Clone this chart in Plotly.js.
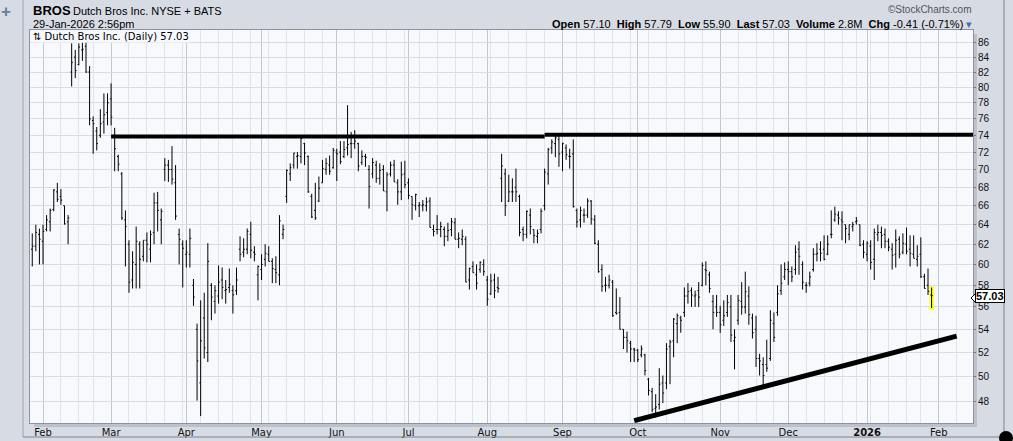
<!DOCTYPE html>
<html>
<head>
<meta charset="utf-8">
<script src="https://cdn.plot.ly/plotly-3.0.1.min.js"></script>
<style>
  html, body { margin: 0; padding: 0; background: #d7dbe4; }
  #chart { width: 1013px; height: 441px; }
</style>
</head>
<body>
<div id="chart"></div>
<script>
// ---------------- DATA ----------------
const firstDate = '2025-01-29';
const lastCalendarDate = '2026-02-27';
const holidays = ['2025-02-17','2025-04-18','2025-05-26','2025-06-19','2025-07-04',
  '2025-09-01','2025-11-27','2025-12-25','2026-01-01','2026-01-19','2026-02-16'];
const monthNames = ['Jan','Feb','Mar','Apr','May','Jun','Jul','Aug','Sep','Oct','Nov','Dec'];
const yTickValues = [48,50,52,54,56,58,60,62,64,66,68,70,72,74,76,78,80,82,84,86];

const openP = [
 61.5,61.8,63.0,62.3,63.5,64.3,65.6,67.5,67.0,66.0,
 64.3,82.0,84.0,83.0,85.0,85.5,82.0,75.8,74.5,74.0,
 75.6,76.8,78.5,74.0,71.5,69.5,64.5,62.0,58.5,60.0,
 62.0,60.8,62.4,61.5,63.2,66.3,64.5,70.0,70.5,70.0,
 68.5,63.0,62.0,61.0,61.0,58.0,54.0,49.5,55.0,52.0,
 58.0,56.5,57.0,58.5,57.5,57.8,57.5,57.5,61.5,61.2,
 61.5,63.0,61.2,59.0,59.5,60.5,61.0,60.3,59.5,59.0,
 63.0,67.0,69.5,70.5,71.5,71.5,73.0,71.5,67.0,65.5,
 66.5,68.5,70.0,70.5,70.2,72.0,72.0,71.5,72.5,73.0,
 73.0,73.0,70.8,71.5,70.0,69.5,70.5,69.0,70.0,67.5,
 69.5,70.5,68.5,67.5,69.5,68.5,67.0,66.0,66.0,66.0,
 66.0,66.5,63.5,63.5,63.5,63.5,62.8,63.5,64.2,62.5,
 62.5,62.5,58.5,59.8,59.0,59.5,60.0,58.5,57.2,58.5,
 57.8,69.0,69.5,66.5,67.5,68.0,67.0,63.5,63.0,65.0,
 63.5,62.8,63.5,66.0,69.5,72.5,73.0,73.5,72.0,72.5,
 71.5,71.8,65.5,64.5,65.0,65.0,66.5,64.5,62.0,59.5,
 58.0,58.0,58.3,55.5,55.5,54.0,53.3,52.8,52.3,52.2,
 51.8,51.8,49.8,48.8,47.5,47.8,49.5,49.5,52.5,53.0,
 54.5,55.0,55.5,57.0,57.5,57.0,57.5,58.0,59.5,59.0,
 56.5,56.0,55.5,54.8,55.5,56.0,53.0,54.8,56.5,56.0,
 57.0,55.0,54.0,51.5,51.0,51.0,51.5,54.5,55.5,57.5,
 58.8,59.5,59.3,59.5,61.5,60.0,58.0,58.2,59.5,61.0,
 61.5,61.5,61.0,63.0,64.5,65.0,64.5,64.0,63.0,63.8,
 64.3,64.0,62.0,61.0,61.8,60.5,63.0,63.2,63.0,62.3,
 61.5,61.0,62.5,61.2,62.0,61.5,61.0,60.5,61.0,58.8,
 58.0,57.10];
const highP = [
 63.1,64.0,63.6,64.0,65.0,65.7,67.8,68.5,67.8,66.0,
 65.0,85.9,85.0,85.9,86.0,86.0,82.8,76.3,75.0,77.2,
 79.2,79.2,80.5,74.9,71.7,69.7,65.5,62.4,61.3,63.8,
 62.3,62.4,63.2,63.4,67.4,67.5,65.7,71.3,71.1,72.7,
 70.5,63.6,62.4,62.4,63.6,58.6,54.5,56.6,57.3,62.1,
 58.2,58.0,59.9,59.7,58.5,59.6,58.0,59.7,62.8,62.6,
 63.6,64.3,61.8,59.9,61.0,62.0,61.8,60.6,60.8,65.0,
 64.0,70.0,70.7,71.9,72.0,73.7,73.1,71.6,67.3,68.5,
 69.2,71.1,71.3,71.6,72.5,72.4,73.3,73.3,77.7,74.4,
 74.6,73.1,72.2,71.8,70.5,71.3,71.0,70.7,70.5,69.7,
 70.9,71.1,68.9,70.9,71.0,69.0,67.0,67.3,66.4,66.6,
 66.9,66.9,64.0,65.0,64.3,63.8,64.2,64.7,64.7,63.2,
 63.5,62.8,59.7,60.3,60.0,60.3,60.5,58.9,59.1,59.1,
 58.8,71.8,70.1,69.4,69.0,70.1,67.2,63.8,65.5,65.7,
 63.5,63.5,65.7,70.1,72.5,73.5,74.2,73.9,73.1,72.9,
 72.4,73.5,65.7,65.9,65.7,66.8,66.6,65.0,62.4,60.0,
 58.8,59.0,58.5,57.7,56.9,54.0,53.8,53.0,52.4,52.3,
 52.6,51.9,49.9,49.1,48.6,50.7,50.1,52.8,53.1,55.0,
 55.4,55.2,57.8,58.2,57.8,57.5,58.3,60.2,60.3,59.3,
 57.1,57.1,56.1,56.6,57.1,57.1,54.0,57.1,58.3,59.3,
 57.9,55.4,55.2,51.9,51.6,53.1,55.7,55.5,58.0,60.0,
 60.2,60.3,59.8,61.9,62.3,60.3,58.3,59.3,61.6,62.1,
 62.3,62.9,62.9,65.5,65.9,65.4,65.4,64.0,64.0,64.3,
 64.8,64.0,62.4,62.3,62.4,63.6,64.0,63.8,63.6,62.6,
 62.1,63.5,62.8,63.1,63.7,62.9,62.9,61.9,62.7,59.1,
 59.6,57.79];
const lowP = [
 59.8,61.3,60.0,60.0,63.3,63.3,65.4,66.4,66.1,64.0,
 62.0,80.1,81.2,82.9,83.5,81.9,75.2,71.8,72.2,73.7,
 74.2,75.2,75.2,69.8,69.8,64.5,59.8,57.3,57.7,57.7,
 57.7,60.3,60.2,60.2,62.0,63.3,62.0,68.7,68.6,68.3,
 64.5,60.0,57.8,59.7,59.7,56.1,48.1,46.9,51.5,51.2,
 54.8,55.4,56.3,56.7,56.3,57.3,55.4,57.1,60.3,60.7,
 61.0,60.6,60.3,56.6,58.5,59.8,60.3,58.2,58.2,58.0,
 62.5,66.3,68.7,70.1,70.1,70.7,70.5,67.4,64.7,64.5,
 66.4,68.5,69.4,69.4,70.1,68.7,70.6,71.3,71.6,71.3,
 72.4,69.8,70.5,70.3,65.7,69.0,68.5,68.3,67.6,65.4,
 69.2,68.6,66.1,66.6,67.9,66.7,64.5,65.5,64.8,65.4,
 65.4,63.7,62.8,63.0,62.7,61.8,62.3,62.8,62.5,61.6,
 61.9,58.3,57.6,59.2,57.6,59.2,58.9,56.1,57.1,56.8,
 57.3,66.4,64.9,66.4,66.4,66.4,62.8,62.3,62.6,63.0,
 62.1,62.1,63.1,65.5,68.3,71.8,71.4,70.3,69.8,71.1,
 70.1,65.8,63.7,63.7,64.2,64.7,64.0,62.0,59.2,57.4,
 57.4,57.7,55.1,55.3,54.0,52.3,52.0,51.2,51.2,51.2,
 51.6,50.1,48.5,47.2,46.8,47.4,47.9,49.0,49.4,51.6,
 52.8,53.7,55.1,56.3,56.0,56.0,56.0,57.9,58.0,57.3,
 54.0,55.1,53.7,54.3,55.1,52.9,50.6,54.4,55.3,55.4,
 54.4,53.2,50.8,50.1,49.3,50.4,51.3,52.9,55.2,57.1,
 58.5,58.0,58.3,59.0,59.0,57.6,57.3,57.9,59.3,60.3,
 60.3,60.4,60.9,62.6,64.3,64.0,62.4,62.1,62.4,63.3,
 64.0,61.8,60.6,60.3,59.5,58.5,62.3,61.6,61.6,61.3,
 59.5,59.7,60.6,61.0,61.0,59.8,60.6,59.8,58.7,57.7,
 57.1,55.90];
const closeP = [
 61.8,63.2,62.5,63.3,64.5,65.5,67.7,66.7,66.6,64.1,
 64.7,83.3,82.2,85.4,85.1,82.0,76.0,75.4,73.0,75.4,
 76.5,78.0,76.2,72.4,70.6,64.7,63.8,58.3,60.2,62.3,
 60.5,62.4,62.0,63.0,66.3,65.5,65.4,70.5,70.0,68.9,
 64.9,62.5,61.6,61.2,62.6,56.9,51.3,53.0,52.4,60.3,
 56.9,57.5,58.3,57.8,57.6,58.1,57.1,58.5,61.0,61.5,
 63.3,61.4,61.0,59.8,60.0,61.1,60.3,59.6,59.2,64.4,
 63.5,69.9,70.2,71.9,71.6,73.6,71.9,67.5,64.8,64.7,
 67.9,70.1,70.7,69.8,72.2,71.8,70.9,72.3,72.9,73.0,
 73.3,70.4,71.5,71.4,68.1,70.8,69.0,69.9,67.6,69.4,
 70.5,68.6,67.5,69.4,68.3,67.1,66.1,67.2,66.1,66.1,
 66.4,63.7,63.3,63.5,63.8,62.8,63.4,64.3,62.5,62.6,
 62.8,58.3,59.6,59.2,58.2,60.2,59.3,56.7,58.4,57.5,
 57.7,70.4,66.0,67.5,67.5,67.5,63.2,63.0,65.4,63.8,
 62.9,63.1,65.4,69.7,72.3,73.2,73.7,71.8,73.0,71.7,
 71.5,65.9,64.3,65.5,65.0,66.5,64.6,62.1,59.3,57.9,
 58.0,58.5,55.2,55.4,54.0,53.3,53.0,52.3,52.2,51.4,
 52.3,50.5,48.9,47.4,47.6,49.4,48.7,52.3,52.9,54.9,
 55.2,54.8,57.0,57.4,57.1,57.1,56.9,59.9,59.4,57.7,
 55.5,55.5,54.4,55.2,56.4,53.5,53.3,56.6,56.0,57.4,
 55.3,53.7,51.5,51.3,50.1,50.7,54.8,53.3,57.2,58.2,
 59.5,59.3,58.8,61.2,60.8,58.3,58.0,58.8,61.0,61.1,
 61.1,60.5,62.0,63.0,65.1,64.7,64.3,63.6,64.0,64.0,
 64.4,61.9,61.2,62.1,60.2,63.2,63.2,62.9,62.3,61.7,
 60.9,62.4,61.0,62.1,61.3,61.1,60.6,60.8,58.8,57.7,
 57.44,57.03];

// user-drawn trend lines (dates, price levels)
const resistance1Dates = ['2025-03-03','2025-08-25'];
const resistance1Prices = [73.85, 73.85];
const resistance2Dates = ['2025-08-25','2026-02-20'];
const resistance2Prices = [74.05, 74.05];
const supportDates = ['2025-09-30','2026-02-09'];
const supportPrices = [46.56, 53.4];

// ---------------- CALENDAR ----------------
function tradingCalendar() {
  const out = [];
  const d = new Date(firstDate + 'T00:00:00Z');
  const end = new Date(lastCalendarDate + 'T00:00:00Z');
  while (d <= end) {
    const wd = d.getUTCDay();
    const s = d.toISOString().slice(0, 10);
    if (wd !== 0 && wd !== 6 && !holidays.includes(s)) out.push(s);
    d.setUTCDate(d.getUTCDate() + 1);
  }
  return out;
}
const cal = tradingCalendar();
const n = closeP.length;
const xIdx = cal.slice(0, n).map((_, i) => i);
const dIdx = s => cal.indexOf(s);

const monthTickVals = [], monthTickText = [], weekTickVals = [];
for (let i = 1; i < cal.length; i++) {
  const m = cal[i].slice(5, 7), pm = cal[i - 1].slice(5, 7);
  if (m !== pm) {
    monthTickVals.push(i);
    monthTickText.push(m === '01' ? '<b>' + cal[i].slice(0, 4) + '</b>' : monthNames[+m - 1]);
  } else {
    const wd = new Date(cal[i] + 'T00:00:00Z').getUTCDay();
    const pwd = new Date(cal[i - 1] + 'T00:00:00Z').getUTCDay();
    if (wd < pwd) weekTickVals.push(i);
  }
}

// ---------------- LAYOUT HELPERS ----------------
const W = 1013, H = 441, PL = 30, PR = 973, PT = 30, PB = 423;
const px = x => (x - PL) / (PR - PL);
const py = y => (PB - y) / (PB - PT);
const sans = 'Liberation Sans, Arial, sans-serif';
const dejavu = 'DejaVu Sans, Verdana, sans-serif';
const last = n - 1;

const traces = [
  { type: 'bar', x: [xIdx[last]], base: [lowP[last] * 0.997], y: [highP[last] * 1.003 - lowP[last] * 0.997],
    width: 1.5, marker: { color: '#ffff50', line: { width: 0 } }, hoverinfo: 'skip', showlegend: false },
  { type: 'ohlc', x: xIdx, open: openP, high: highP, low: lowP, close: closeP,
    increasing: { line: { color: '#000', width: 1 } },
    decreasing: { line: { color: '#000', width: 1 } },
    tickwidth: 0.35, hoverinfo: 'skip', showlegend: false },
  { type: 'scatter', mode: 'lines', x: resistance1Dates.map(dIdx), y: resistance1Prices,
    line: { color: '#000', width: 4 }, hoverinfo: 'skip', showlegend: false },
  { type: 'scatter', mode: 'lines', x: resistance2Dates.map(dIdx), y: resistance2Prices,
    line: { color: '#000', width: 4 }, hoverinfo: 'skip', showlegend: false },
  { type: 'scatter', mode: 'lines', x: supportDates.map(dIdx), y: supportPrices,
    line: { color: '#000', width: 5 }, hoverinfo: 'skip', showlegend: false }
];

const layout = {
  width: W, height: H,
  margin: { l: PL, r: W - PR, t: PT, b: H - PB, pad: 0 },
  paper_bgcolor: '#d7dbe4',
  plot_bgcolor: '#f8f9fc',
  showlegend: false,
  hovermode: false,
  dragmode: false,
  xaxis: {
    range: [(PL - 32.25) / 3.583, (PR - 32.25) / 3.583],
    tickmode: 'array', tickvals: monthTickVals, ticktext: monthTickText,
    showgrid: true, gridcolor: '#c3c7d0', gridwidth: 1,
    minor: { tickmode: 'array', tickvals: weekTickVals, showgrid: true, gridcolor: '#e0e3ea', ticks: '' },
    ticks: '', tickfont: { family: dejavu, size: 10, color: '#111' },
    showline: true, mirror: true, linecolor: '#8d929c', linewidth: 1,
    zeroline: false, rangeslider: { visible: false }, fixedrange: true
  },
  yaxis: {
    type: 'log', side: 'right',
    range: [Math.log10(46.38), Math.log10(87.79)],
    tickmode: 'array', tickvals: yTickValues, ticktext: yTickValues.map(String),
    showgrid: true, gridcolor: '#d9dce4', gridwidth: 1,
    ticks: 'outside', ticklen: 2, tickcolor: '#777',
    tickfont: { family: sans, size: 10, color: '#111' },
    showline: true, mirror: true, linecolor: '#8d929c', linewidth: 1,
    zeroline: false, fixedrange: true
  },
  bargap: 0,
  shapes: [
    // drop shadow of the chart panel
    { type: 'rect', xref: 'paper', yref: 'paper', x0: px(PR), x1: px(PR + 4), y0: py(PB + 4), y1: py(PT + 4),
      fillcolor: '#bcc1cb', line: { width: 0 }, layer: 'below' },
    { type: 'rect', xref: 'paper', yref: 'paper', x0: px(PL + 4), x1: px(PR + 4), y0: py(PB + 4), y1: py(PB),
      fillcolor: '#bcc1cb', line: { width: 0 }, layer: 'below' },
    // panel borders
    { type: 'line', xref: 'paper', yref: 'paper', x0: px(23), x1: px(23), y0: py(0), y1: py(437),
      line: { color: '#9ea3ad', width: 1 } },
    { type: 'line', xref: 'paper', yref: 'paper', x0: px(1004), x1: px(1004), y0: py(0), y1: py(437),
      line: { color: '#7d828c', width: 1 } },
    { type: 'line', xref: 'paper', yref: 'paper', x0: px(23), x1: px(1004), y0: py(437), y1: py(437),
      line: { color: '#7d828c', width: 1 } },
    // price marker pointer
    { type: 'path', xref: 'paper', yref: 'paper',
      path: 'M ' + px(971) + ' ' + py(298) + ' L ' + px(976) + ' ' + py(293) + ' L ' + px(976) + ' ' + py(303) + ' Z',
      fillcolor: '#ffffff', line: { color: '#000', width: 1 } },
    // corner knob
    { type: 'circle', xref: 'paper', yref: 'paper', x0: px(999), x1: px(1013), y0: py(445), y1: py(431),
      fillcolor: '#000', line: { width: 0 } }
  ],
  annotations: [
    { xref: 'paper', yref: 'paper', x: px(6), y: py(12), xanchor: 'center', yanchor: 'middle',
      text: '<b>+</b>', showarrow: false, font: { family: sans, size: 17, color: '#6a7f9f' } },
    { xref: 'paper', yref: 'paper', x: px(31), y: py(11), xanchor: 'left', yanchor: 'middle',
      text: '<b>BROS</b>', showarrow: false, font: { family: sans, size: 13, color: '#000' } },
    { xref: 'paper', yref: 'paper', x: px(71), y: py(11), xanchor: 'left', yanchor: 'middle',
      text: 'Dutch Bros Inc. NYSE + BATS', showarrow: false, font: { family: sans, size: 11, color: '#000' } },
    { xref: 'paper', yref: 'paper', x: px(31), y: py(24), xanchor: 'left', yanchor: 'middle',
      text: '29-Jan-2026 2:56pm', showarrow: false, font: { family: sans, size: 11, color: '#000' } },
    { xref: 'paper', yref: 'paper', x: px(974), y: py(10), xanchor: 'right', yanchor: 'middle',
      text: '©StockCharts.com', showarrow: false, font: { family: sans, size: 10, color: '#555' } },
    { xref: 'paper', yref: 'paper', x: px(974), y: py(24), xanchor: 'right', yanchor: 'middle',
      text: '<b>Open</b> ' + openP[last].toFixed(2) + '\u00a0 <b>High</b> ' + highP[last].toFixed(2) +
            '\u00a0 <b>Low</b> ' + lowP[last].toFixed(2) + '\u00a0 <b>Last</b> ' + closeP[last].toFixed(2) +
            '\u00a0 <b>Volume</b> 2.8M\u00a0 <b>Chg</b> ' + (closeP[last] - closeP[last - 1]).toFixed(2) +
            ' (' + ((closeP[last] / closeP[last - 1] - 1) * 100).toFixed(2) + '%) <span style="color:#4a6fa8">▾</span>',
      showarrow: false, font: { family: sans, size: 11, color: '#000' } },
    { xref: 'paper', yref: 'paper', x: px(32), y: py(36), xanchor: 'left', yanchor: 'middle',
      text: '⇅ Dutch Bros Inc. (Daily) ' + closeP[last].toFixed(2), showarrow: false,
      bgcolor: '#f8f9fc', borderpad: 0,
      font: { family: dejavu, size: 10, color: '#000' } },
    { xref: 'paper', yref: 'y', x: px(975), y: Math.log10(closeP[last]), xanchor: 'left', yanchor: 'middle',
      text: '<b>' + closeP[last].toFixed(2) + '</b>', showarrow: false,
      bgcolor: '#ffffff', bordercolor: '#000', borderwidth: 1, borderpad: 0,
      font: { family: sans, size: 11, color: '#000' } }
  ]
};

Plotly.newPlot('chart', traces, layout, { staticPlot: true, displayModeBar: false });
</script>
</body>
</html>
